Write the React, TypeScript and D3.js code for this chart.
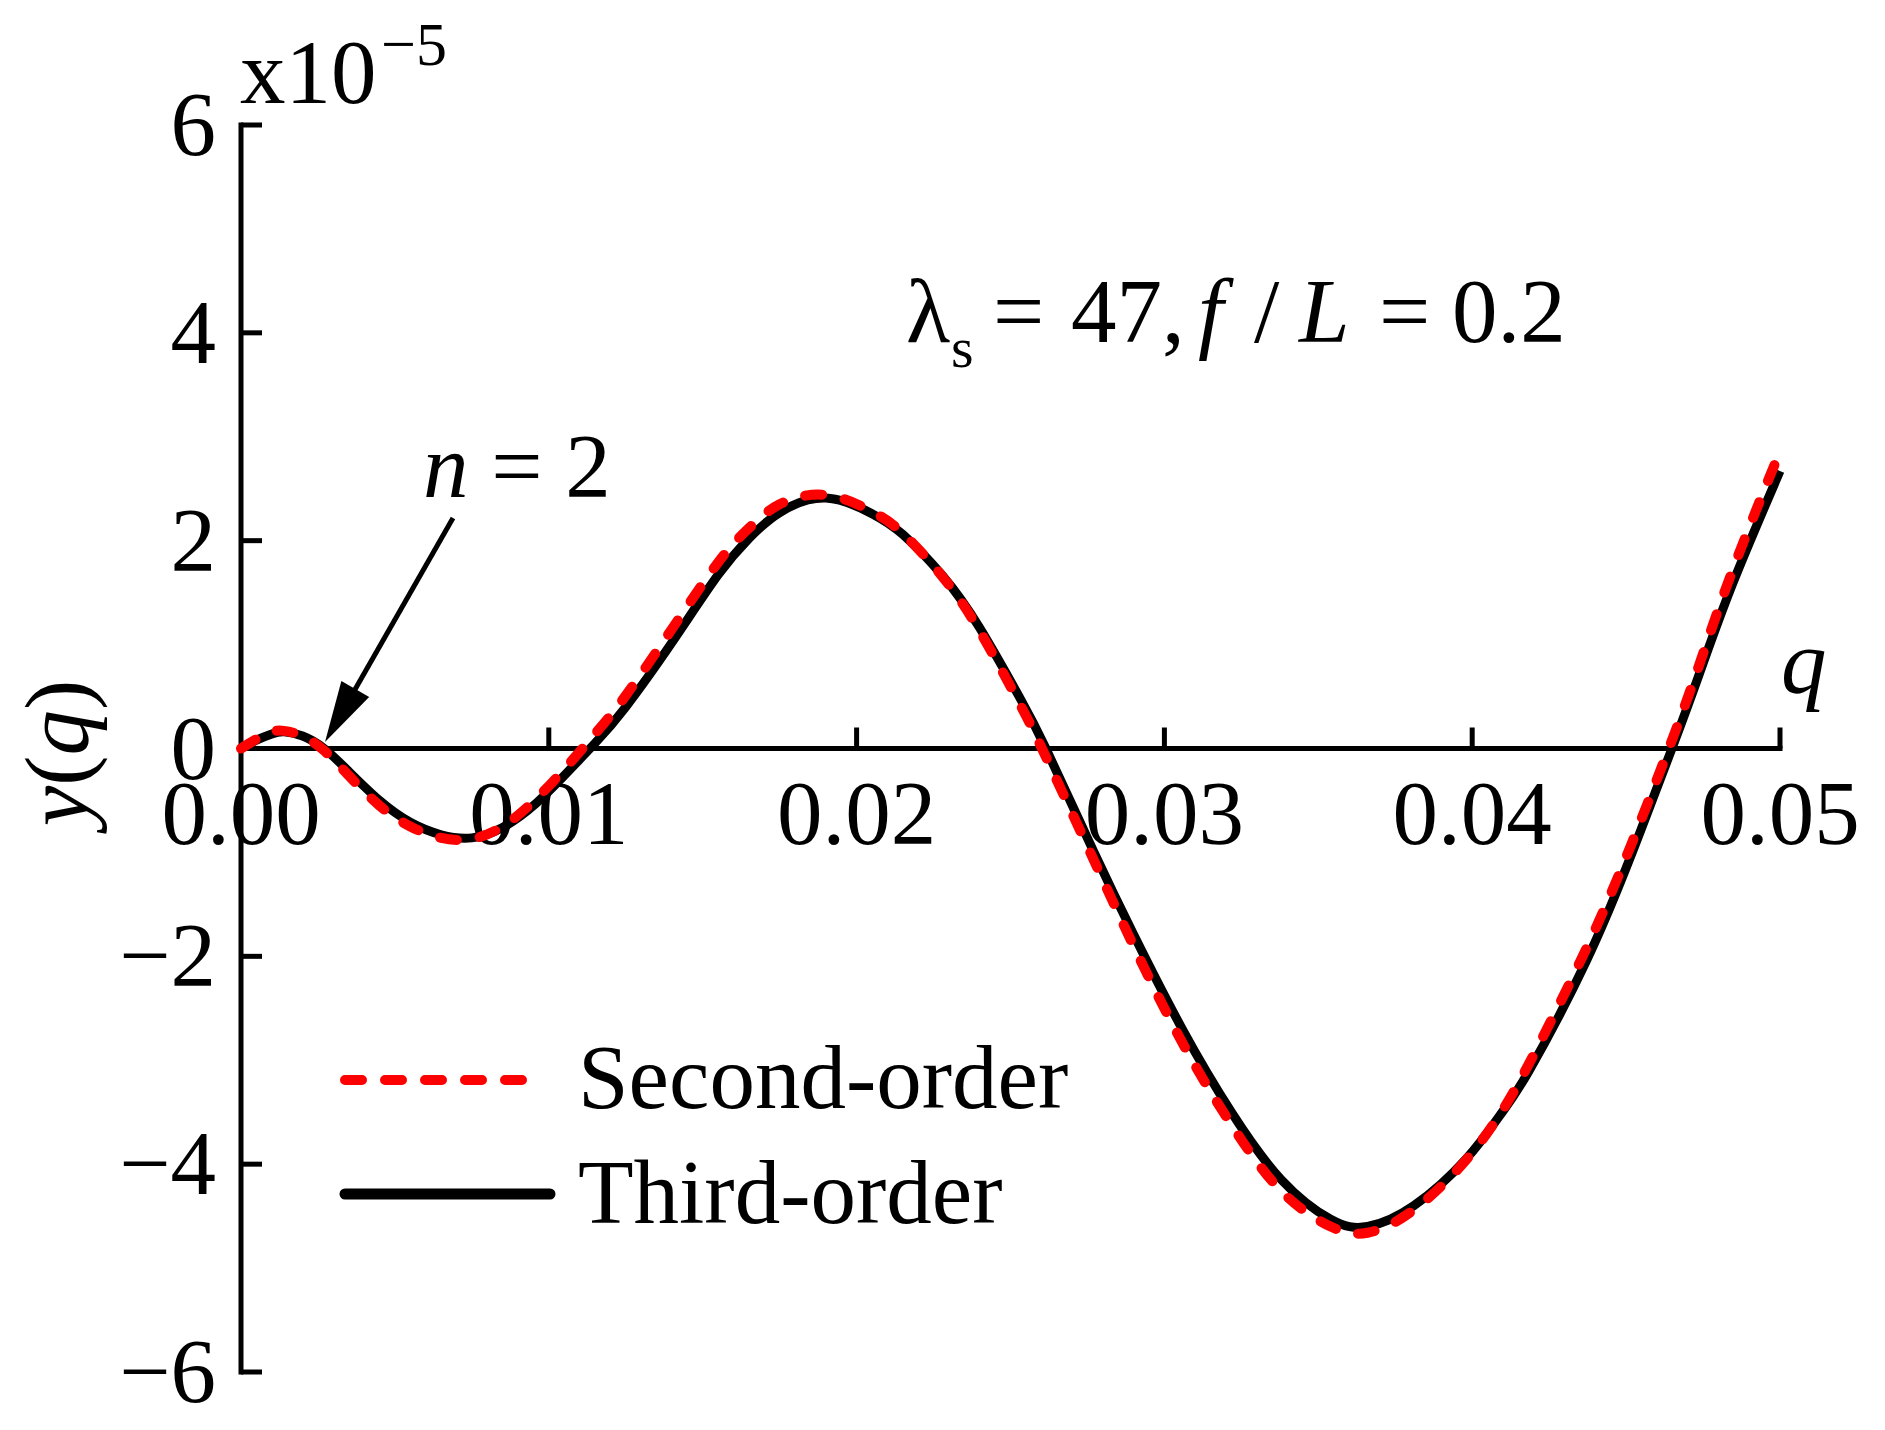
import React from "react";
import * as d3 from "d3";

const qValues = [0, 0.0005, 0.001, 0.0014, 0.002, 0.0027, 0.0035, 0.0045, 0.0055, 0.0065, 0.0075, 0.0085, 0.0095, 0.0105, 0.0115, 0.0125, 0.014, 0.0155, 0.0165, 0.0175, 0.019, 0.0205, 0.0215, 0.0228, 0.024, 0.0253, 0.02615, 0.0277, 0.029, 0.0306, 0.0322, 0.0338, 0.0354, 0.0366, 0.0381, 0.0398, 0.0409, 0.04185, 0.0437, 0.0452, 0.04649, 0.04737, 0.04844, 0.05];

const thirdOrder = [0, 0.08, 0.14, 0.16, 0.12, 0.0, -0.22, -0.5, -0.71, -0.83, -0.86, -0.76, -0.55, -0.26, 0.05, 0.4, 1.02, 1.67, 2.02, 2.27, 2.41, 2.26, 2.06, 1.66, 1.16, 0.49, 0.0, -0.99, -1.79, -2.71, -3.51, -4.15, -4.53, -4.6, -4.4, -3.95, -3.53, -3.1, -2.05, -1.0, 0.0, 0.71, 1.57, 2.67];

const secondOrder = [0, 0.09, 0.16, 0.17, 0.12, -0.02, -0.26, -0.55, -0.75, -0.86, -0.87, -0.75, -0.51, -0.2, 0.14, 0.51, 1.15, 1.79, 2.12, 2.35, 2.44, 2.28, 2.07, 1.65, 1.13, 0.43, -0.08, -1.07, -1.9, -2.84, -3.63, -4.26, -4.6, -4.66, -4.44, -3.96, -3.52, -3.03, -1.93, -0.9, 0.08, 0.8, 1.7, 2.86];

const xTicks = [0, 0.01, 0.02, 0.03, 0.04, 0.05];
const xTickLabels = ["0.00", "0.01", "0.02", "0.03", "0.04", "0.05"];
const yTicks = [6, 4, 2, 0, -2, -4, -6];
const yTickLabels = ["6", "4", "2", "0", "\u22122", "\u22124", "\u22126"];
const seriesNames = ["Second-order", "Third-order"];

const FONT = "'Liberation Serif', 'Times New Roman', serif";

export default function App() {
  const W = 1885;
  const H = 1430;
  const x = d3.scaleLinear().domain([0, 0.05]).range([241, 1780]);
  const y = d3.scaleLinear().domain([-6, 6]).range([1372, 125]);

  const line = d3
    .line<number>()
    .x((_, i) => x(qValues[i]))
    .y((d) => y(d))
    .curve(d3.curveNatural);

  const axisW = 5;
  const fs = 91;

  // arrow geometry
  const ax0 = 453, ay0 = 518, ax1 = 325, ay1 = 742;
  const dx = ax1 - ax0, dy = ay1 - ay0;
  const len = Math.sqrt(dx * dx + dy * dy);
  const ux = dx / len, uy = dy / len;
  const headL = 61, headW = 16;
  const bx = ax1 - ux * headL, by = ay1 - uy * headL;
  const px = -uy, py = ux;

  return (
    <svg
      width={W}
      height={H}
      viewBox={`0 0 ${W} ${H}`}
      style={{ position: "absolute", left: 0, top: 0, background: "#fff" }}
      fontFamily={FONT}
    >
      <rect x={0} y={0} width={W} height={H} fill="#fff" />

      {/* y axis */}
      <line x1={x(0)} x2={x(0)} y1={y(6) - axisW / 2} y2={y(-6) + axisW / 2} stroke="#000" strokeWidth={axisW} />
      {yTicks.map((t, i) => (
        <g key={"yt" + i}>
          <line x1={x(0)} x2={x(0) + 21} y1={y(t)} y2={y(t)} stroke="#000" strokeWidth={axisW} />
          <text x={216} y={y(t) + 30} textAnchor="end" fontSize={fs} fill="#000">
            {yTickLabels[i]}
          </text>
        </g>
      ))}

      {/* x axis */}
      <line x1={x(0)} x2={x(0.05) + axisW / 2} y1={y(0)} y2={y(0)} stroke="#000" strokeWidth={axisW} />
      {xTicks.map((t, i) => (
        <g key={"xt" + i}>
          {i > 0 && (
            <line x1={x(t)} x2={x(t)} y1={y(0)} y2={y(0) - 21} stroke="#000" strokeWidth={axisW} />
          )}
          <text x={x(t)} y={844} textAnchor="middle" fontSize={fs} fill="#000">
            {xTickLabels[i]}
          </text>
        </g>
      ))}

      {/* exponent */}
      <text x={240} y={103} fontSize={fs} fill="#000">x10</text>
      <text x={381} y={65} fontSize={62} fill="#000">{"\u22125"}</text>

      {/* axis labels */}
      <text
        transform={`translate(88, 753) rotate(-90)`}
        textAnchor="middle"
        fontSize={fs}
        fill="#000"
      >
        <tspan fontStyle="italic">y</tspan>
        <tspan>(</tspan>
        <tspan fontStyle="italic">q</tspan>
        <tspan>)</tspan>
      </text>
      <text x={1781} y={693} fontSize={fs} fontStyle="italic" fill="#000">q</text>

      {/* curves */}
      <path d={line(thirdOrder) || ""} fill="none" stroke="#000" strokeWidth={9} strokeLinejoin="round" />
      <path
        d={line(secondOrder) || ""}
        fill="none"
        stroke="#ff0000"
        strokeWidth={10}
        strokeDasharray="17 23"
        strokeLinecap="round"
        strokeLinejoin="round"
      />

      {/* annotation n = 2 */}
      <text x={423} y={497} fontSize={fs} fill="#000">
        <tspan fontStyle="italic">n</tspan>
        <tspan>{" = 2"}</tspan>
      </text>
      <line x1={ax0} y1={ay0} x2={bx + ux * 4} y2={by + uy * 4} stroke="#000" strokeWidth={5} />
      <path
        d={`M${ax1},${ay1} L${bx + px * headW},${by + py * headW} L${bx - px * headW},${by - py * headW} Z`}
        fill="#000"
      />

      {/* parameters annotation */}
      <g fontSize={fs} fill="#000">
        <text x={906} y={342}>λ</text>
        <text x={951} y={367} fontSize={58}>s</text>
        <text x={993} y={342}>=</text>
        <text x={1071} y={342}>47,</text>
        <text x={1198} y={342} fontStyle="italic">f</text>
        <text x={1254} y={342}>/</text>
        <text x={1299} y={342} fontStyle="italic">L</text>
        <text x={1379} y={342}>=</text>
        <text x={1452} y={342}>0.2</text>
      </g>

      {/* legend */}
      <line x1={345} x2={531} y1={1080} y2={1080} stroke="#ff0000" strokeWidth={10} strokeDasharray="17 23" strokeLinecap="round" />
      <text x={578} y={1108} fontSize={fs} fill="#000">{seriesNames[0]}</text>
      <line x1={345} x2={550} y1={1194} y2={1194} stroke="#000" strokeWidth={11} strokeLinecap="round" />
      <text x={578} y={1223} fontSize={fs} fill="#000">{seriesNames[1]}</text>
    </svg>
  );
}
